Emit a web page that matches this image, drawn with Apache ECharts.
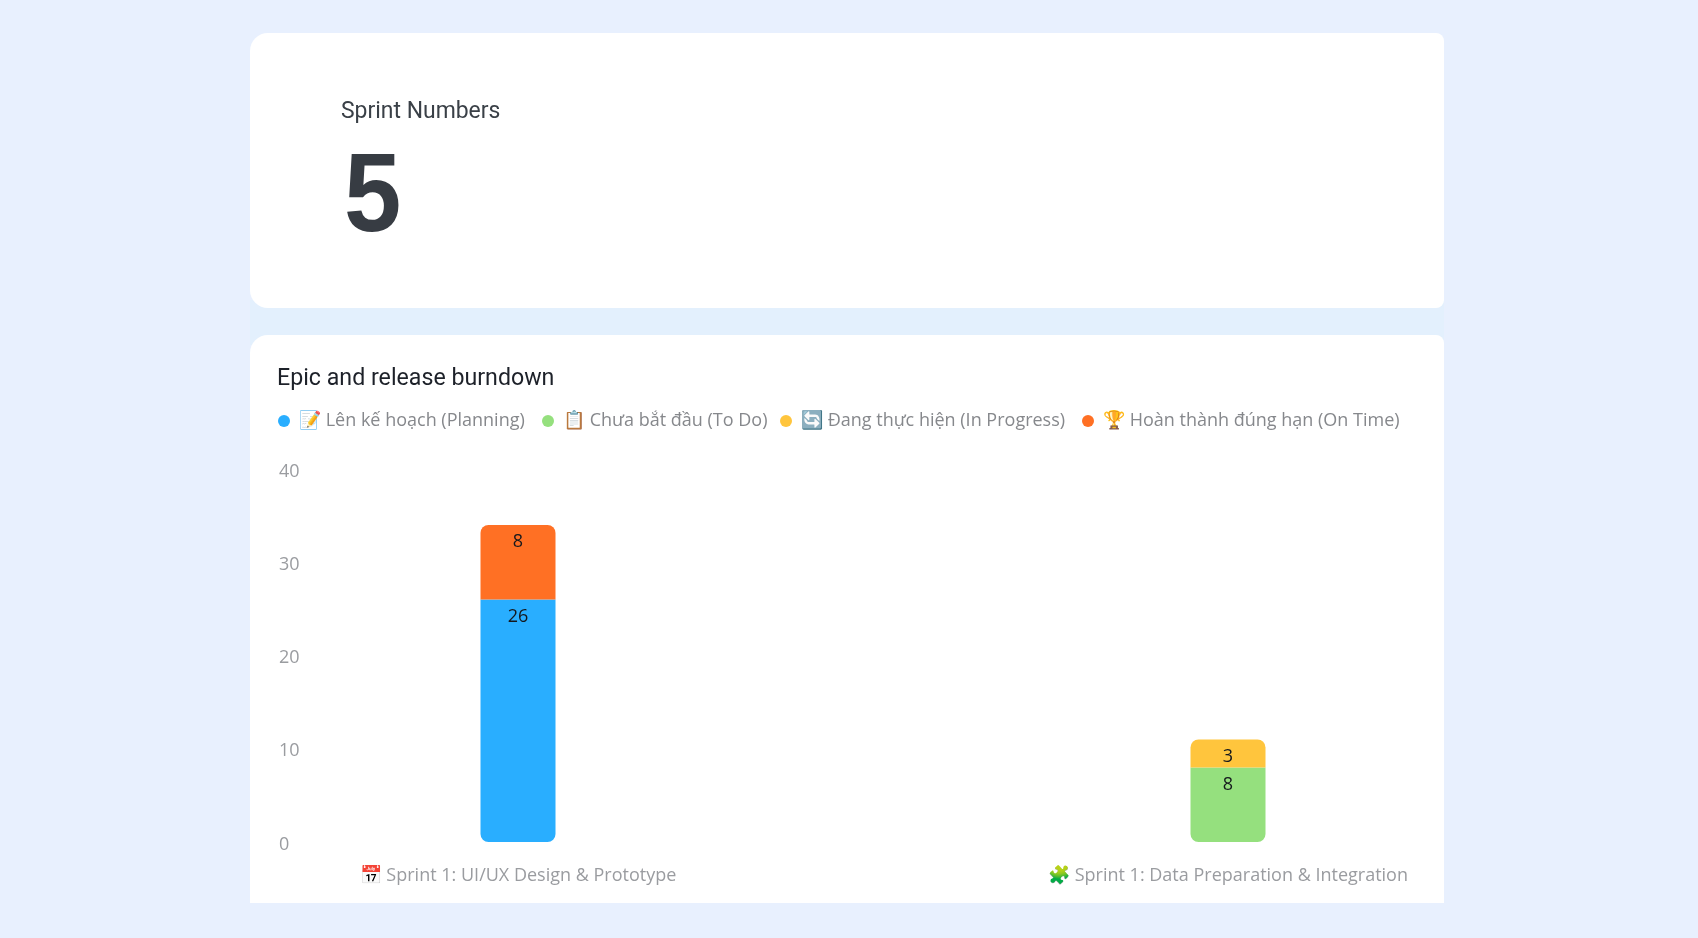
<!DOCTYPE html>
<html><head><meta charset="utf-8">
<style>html,body{margin:0;padding:0;background:#e8f0fe}#c{width:1698px;height:938px}</style>
<script src="https://cdn.jsdelivr.net/npm/echarts@6/dist/echarts.min.js"></script>
</head><body><div id="c"></div>
<script>
const categories = ['📅 Sprint 1: UI/UX Design & Prototype', '🧩 Sprint 1: Data Preparation & Integration'];
const seriesNames = ['📝 Lên kế hoạch (Planning)', '📋 Chưa bắt đầu (To Do)', '🔄 Đang thực hiện (In Progress)', '🏆 Hoàn thành đúng hạn (On Time)'];
const planning = [26, null];
const todo = [null, 8];
const inProgress = [null, 3];
const onTime = [8, null];
const colors = ['#29AEFF', '#95E07E', '#FFC53D', '#FF7024'];
const kpiLabel = 'Sprint Numbers';
const kpiValue = '5';
const chartTitle = 'Epic and release burndown';
const FF = '"Open Sans","Noto Sans",sans-serif';
const legendLefts = [278, 542, 780, 1082];
const chart = echarts.init(document.getElementById('c'), null, {renderer:'canvas'});
function bar(name, data, radius){
  return {name, type:'bar', stack:'t', data, barWidth:75,
    itemStyle:{borderRadius:radius},
    label:{show:true, position:'insideTop', distance:8, color:'#15181d', fontSize:18, fontFamily:FF, formatter:p=>p.value}};
}
chart.setOption({
  animation:false,
  backgroundColor:'#e8f0fe',
  color:colors,
  graphic:[
    {type:'rect', z:-2, shape:{x:250,y:300,width:1194,height:45}, style:{fill:'#e3f0fd'}},
    {type:'rect', z:-1, shape:{x:250,y:33,width:1194,height:275,r:[18,8,8,18]}, style:{fill:'#fff'}},
    {type:'rect', z:-1, shape:{x:250,y:335,width:1194,height:568,r:[18,8,0,0]}, style:{fill:'#fff'}},
    {type:'text', x:341, y:112, scaleX:0.955, style:{text:kpiLabel, fill:'#3a4047', font:'24px Roboto', textVerticalAlign:'middle'}},
    {type:'text', x:344, y:200, scaleX:0.92, style:{text:kpiValue, fill:'#373c43', font:'bold 112px "Liberation Sans"', textVerticalAlign:'middle'}},
    {type:'text', x:277, y:378.5, scaleX:0.966, style:{text:chartTitle, fill:'#1d2129', font:'24px Roboto', textVerticalAlign:'middle'}}
  ],
  legend: seriesNames.map((n,i)=>({left:legendLefts[i], top:412, padding:0, icon:'circle', itemWidth:12, itemHeight:12,
    textStyle:{color:'#86888c', fontSize:18, fontFamily:FF, padding:[0,0,0,4]}, data:[n]})),
  grid:{left:163, width:1420, top:469, height:373, containLabel:false},
  xAxis:{type:'category', data:categories, axisLine:{show:false}, axisTick:{show:false},
    axisLabel:{color:'#9a9ca0', fontSize:18, fontFamily:FF, margin:25, interval:0}},
  yAxis:{type:'value', min:0, max:40, interval:10, splitLine:{show:false}, axisLine:{show:false}, axisTick:{show:false},
    axisLabel:{align:'left', margin:-116, formatter:'{v|{value}}',
      rich:{v:{color:'#9a9ca0', fontSize:18, fontFamily:FF, lineHeight:23, verticalAlign:'bottom'}}}},
  series:[
    bar(seriesNames[0], planning, [0,0,8,8]),
    bar(seriesNames[1], todo, [0,0,8,8]),
    bar(seriesNames[2], inProgress, [8,8,0,0]),
    bar(seriesNames[3], onTime, [8,8,0,0])
  ]
});
</script></body></html>
